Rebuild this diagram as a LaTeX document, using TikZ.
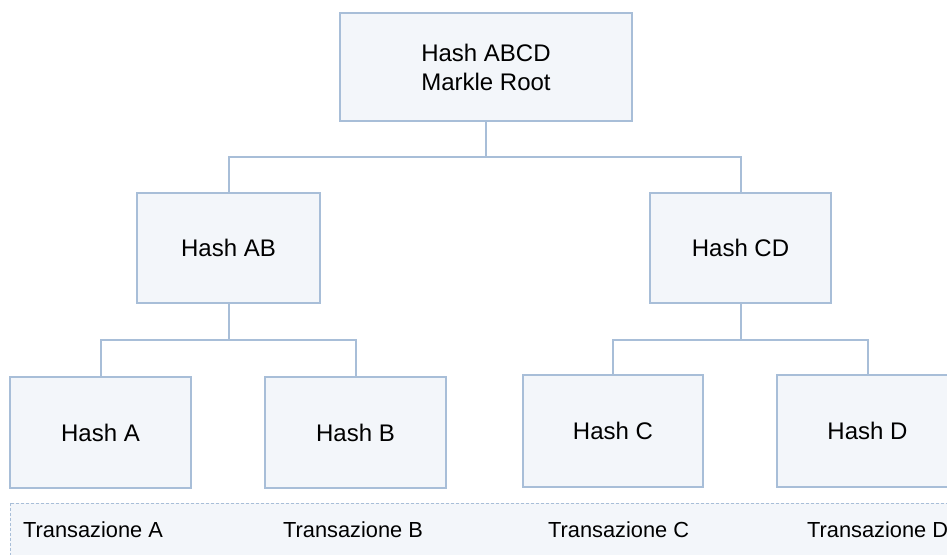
\documentclass[tikz,border=0pt]{standalone}
\usepackage{fontspec}
\setmainfont{Liberation Sans}
\definecolor{edge}{HTML}{A8BED8}
\definecolor{boxfill}{HTML}{F3F6FA}
\begin{document}
\begin{tikzpicture}[x=1pt,y=-1pt,
  hashbox/.style={draw=edge,fill=boxfill,line width=2pt,inner sep=0pt,
    font=\fontsize{24}{29}\selectfont,align=center},
  link/.style={draw=edge,line width=2pt},
  txlabel/.style={anchor=base west,inner sep=0pt,font=\fontsize{21.8}{26}\selectfont}]
\clip (0,0) rectangle (947,554);
\fill[white] (0,0) rectangle (947,554);

% transaction strip
\draw[edge,fill=boxfill,line width=0.8pt,dash pattern=on 3pt off 2pt]
  (10,503) rectangle (970,580);
\node[txlabel] (ta) at (23,537) {Transazione A};
\node[txlabel] (tb) at (283,537) {Transazione B};
\node[txlabel] (tc) at (548,537) {Transazione C};
\node[txlabel] (td) at (807,537) {Transazione D};

% tree of hashes
\node[hashbox,minimum width=292pt,minimum height=108pt] (root) at (486,67) {Hash ABCD\\Markle Root};
\node[hashbox,minimum width=183pt,minimum height=110pt] (ab) at (228.5,248) {Hash AB};
\node[hashbox,minimum width=181pt,minimum height=110pt] (cd) at (740.5,248) {Hash CD};
\node[hashbox,minimum width=181pt,minimum height=111pt] (a) at (100.5,432.5) {Hash A};
\node[hashbox,minimum width=181pt,minimum height=111pt] (b) at (355.5,432.5) {Hash B};
\node[hashbox,minimum width=180pt,minimum height=112pt] (c) at (613,431) {Hash C};
\node[hashbox,minimum width=181pt,minimum height=112pt] (d) at (867.5,431) {Hash D};

% connectors
\coordinate (j0) at (486,157);
\coordinate (j1) at (228.5,340);
\coordinate (j2) at (740.5,340);
\draw[link] (root.south) -- (j0);
\draw[link] (ab.north) |- (j0) -| (cd.north);
\draw[link] (ab.south) -- (j1);
\draw[link] (a.north) |- (j1) -| (b.north);
\draw[link] (cd.south) -- (j2);
\draw[link] (c.north) |- (j2) -| (d.north);
\end{tikzpicture}
\end{document}
